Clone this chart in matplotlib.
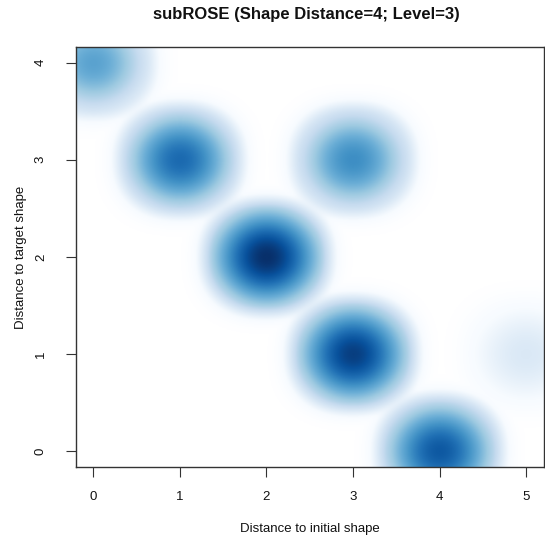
import numpy as np
import matplotlib
matplotlib.use("Agg")
import matplotlib.pyplot as plt
from matplotlib.colors import LinearSegmentedColormap

# Observed (initial distance, target distance) pairs and their frequencies
init_dist = [0, 1, 2, 3, 3, 4, 5]
target_dist = [4, 3, 2, 3, 1, 0, 1]
counts = [39, 123, 300, 64, 244, 164, 1]

x_ticks = [0, 1, 2, 3, 4, 5]
y_ticks = [0, 1, 2, 3, 4]

title = "subROSE (Shape Distance=4; Level=3)"
xlabel = "Distance to initial shape"
ylabel = "Distance to target shape"

plt.rcParams["font.family"] = ["Liberation Sans", "DejaVu Sans"]

# R-style axis ranges (4% padding on each side)
xr = (min(x_ticks), max(x_ticks))
yr = (min(y_ticks), max(y_ticks))
xpad = 0.04 * (xr[1] - xr[0])
ypad = 0.04 * (yr[1] - yr[0])
xlim = (xr[0] - xpad, xr[1] + xpad)
ylim = (yr[0] - ypad, yr[1] + ypad)

# Smoothed density: Gaussian kernel with a soft cut-off so that each blob
# fades out to white
bw_x = (xr[1] - xr[0]) / 25 * 1.2
bw_y = (yr[1] - yr[0]) / 25 * 1.2
gx = np.linspace(xlim[0], xlim[1], 700)
gy = np.linspace(ylim[0], ylim[1], 700)
X, Y = np.meshgrid(gx, gy)


def smoothstep(t):
    t = np.clip(t, 0, 1)
    return t * t * (3 - 2 * t)


dens = np.zeros_like(X)
for x0, y0, c in zip(init_dist, target_dist, counts):
    dx = (X - x0) / bw_x
    dy = (Y - y0) / bw_y
    d = (np.abs(dx) ** 2.5 + np.abs(dy) ** 2.5) ** 0.4
    taper = 1 - smoothstep((d - 2.5) / 1.8)
    k = np.exp(-0.5 * (dx ** 2 + dy ** 2)) * taper ** 4
    dens += c * k
z = (dens / dens.max()) ** 0.25

blues9 = ["#F7FBFF", "#DEEBF7", "#C6DBEF", "#9ECAE1", "#6BAED6",
          "#4292C6", "#2171B5", "#08519C", "#08306B"]
cmap = LinearSegmentedColormap.from_list("ramp", ["white"] + blues9, N=256)

fig = plt.figure(figsize=(5.45, 5.38), dpi=100)
ax = fig.add_axes([76 / 545, 1 - 467 / 538, (543.5 - 76) / 545, (467 - 47) / 538])
ax.imshow(z, extent=[xlim[0], xlim[1], ylim[0], ylim[1]], origin="lower",
          cmap=cmap, vmin=0, vmax=1, aspect="auto", interpolation="bilinear")
ax.set_xlim(xlim)
ax.set_ylim(ylim)

ax.set_xticks(x_ticks)
ax.set_yticks(y_ticks)
ax.set_xticklabels([str(t) for t in x_ticks])
ax.set_yticklabels([str(t) for t in y_ticks], rotation=90, va="center")
ax.tick_params(axis="both", direction="out", length=7, width=0.8,
               color="#333333", labelsize=9.5, labelcolor="#111111")
ax.tick_params(axis="x", pad=10)
ax.tick_params(axis="y", pad=14)
for s in ax.spines.values():
    s.set_color("#333333")
    s.set_linewidth(1.0)

fig.text(306 / 545, 1 - 15 / 538, title, ha="center", va="center",
         fontsize=12, fontweight="bold", color="#111111")
fig.text(310 / 545, 1 - 529 / 538, xlabel, ha="center", va="center",
         fontsize=9.5, color="#111111")
fig.text(21 / 545, 1 - 257 / 538, ylabel, ha="center", va="center",
         rotation=90, fontsize=9.5, color="#111111")

fig.savefig("out.png", dpi=100)
